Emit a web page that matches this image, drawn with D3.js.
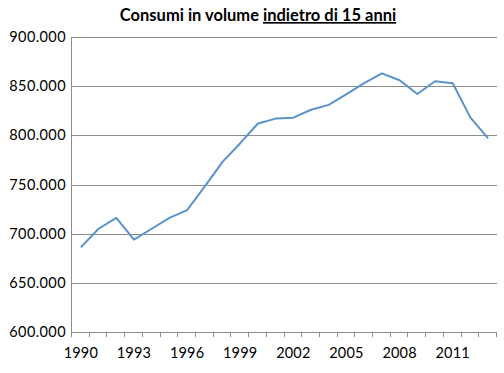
<!DOCTYPE html>
<html>
<head>
<meta charset="utf-8">
<script src="https://d3js.org/d3.v7.min.js"></script>
<style>
  body { margin: 0; background: #fff; }
  text { font-family: Lato, "Open Sans", sans-serif; }
</style>
</head>
<body>
<svg id="chart" width="504" height="373"></svg>
<script>
const years = d3.range(1990, 2014)
const consumi = [686, 705, 716, 694, 705, 716, 724, 748, 773, 792,
  812, 817, 818, 826, 831, 842, 853, 863, 856, 842, 855, 853, 818, 797]
const yTicks = [600, 650, 700, 750, 800, 850, 900]
const xLabelYears = [1990, 1993, 1996, 1999, 2002, 2005, 2008, 2011]

const svg = d3.select("#chart")
const LEFT = 72
const RIGHT = 497
const TOP = 37
const BOTTOM = 332

let xs = d3.scaleBand()
  .domain(years)
  .range([LEFT, RIGHT])
  .padding(0)
let ys = d3.scaleLinear()
  .domain([600, 900])
  .range([BOTTOM, TOP])
const dx = xs.bandwidth()

// gridlines
svg.append("g")
  .selectAll("line")
  .data(yTicks)
  .enter()
  .append("line")
  .attr("x1", LEFT)
  .attr("x2", RIGHT)
  .attr("y1", d => Math.round(ys(d)) + 0.5)
  .attr("y2", d => Math.round(ys(d)) + 0.5)
  .style("stroke", "#8c8c8c")
  .style("stroke-width", 1)

// y labels
svg.append("g")
  .selectAll("text")
  .data(yTicks)
  .enter()
  .append("text")
  .text(d => d3.format(".3f")(d))
  .attr("x", 66)
  .attr("y", d => ys(d) + 5)
  .style("text-anchor", "end")
  .style("font-size", "14.5px")
  .style("letter-spacing", "0.4px")
  .style("fill", "#000")

// y axis line
svg.append("line")
  .attr("x1", LEFT - 0.5).attr("x2", LEFT - 0.5)
  .attr("y1", TOP).attr("y2", BOTTOM + 0.5)
  .style("stroke", "#8c8c8c")

// x ticks at band edges
svg.append("g")
  .selectAll("line")
  .data(years.concat([2014]))
  .enter()
  .append("line")
  .attr("x1", (d, i) => Math.round(LEFT + i * dx) - 0.5)
  .attr("x2", (d, i) => Math.round(LEFT + i * dx) - 0.5)
  .attr("y1", BOTTOM)
  .attr("y2", BOTTOM + 5)
  .style("stroke", "#8c8c8c")

// x labels
svg.append("g")
  .selectAll("text")
  .data(xLabelYears)
  .enter()
  .append("text")
  .text(d => d)
  .attr("x", d => xs(d) + dx / 2)
  .attr("y", 358)
  .style("text-anchor", "middle")
  .style("font-size", "14.5px")
  .style("letter-spacing", "0.2px")
  .style("fill", "#000")

// the line
let line = d3.line()
  .x((d, i) => xs(years[i]) + dx / 2)
  .y(d => ys(d))
svg.append("path")
  .datum(consumi)
  .attr("d", line)
  .style("fill", "none")
  .style("stroke", "#5a93cb")
  .style("stroke-width", 2)
  .style("stroke-linejoin", "round")

// title
let title = svg.append("text")
  .attr("x", 258)
  .attr("y", 21)
  .style("text-anchor", "middle")
  .style("font-size", "16.5px")
  .style("font-weight", "bold")
title.append("tspan").text("Consumi in volume ")
title.append("tspan").text("indietro di 15 anni").style("text-decoration", "underline")
</script>
</body>
</html>
